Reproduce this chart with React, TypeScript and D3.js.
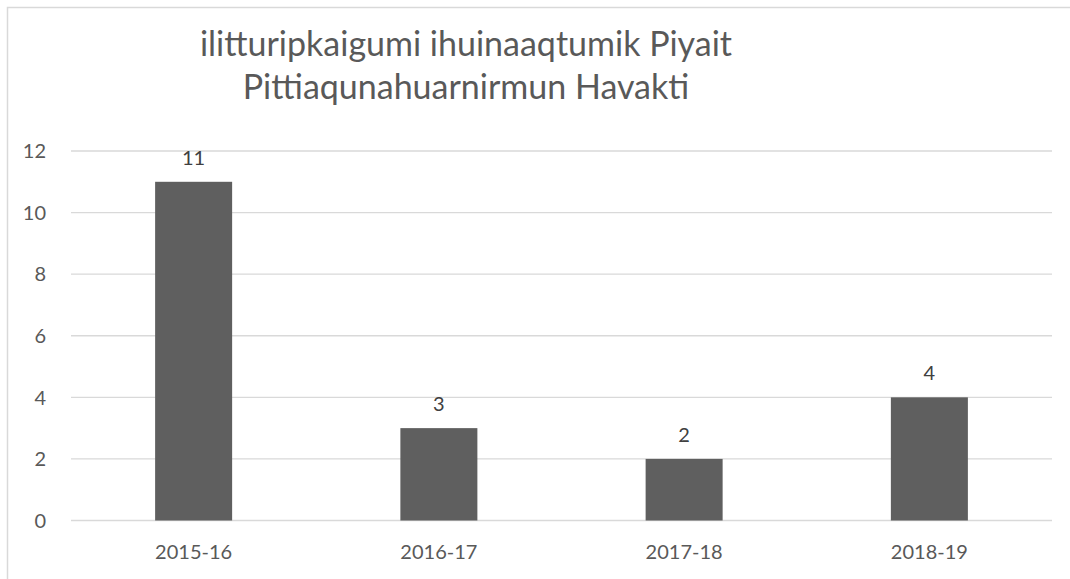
import * as d3 from 'd3';
import React, { useEffect, useRef } from 'react';

const categories = ['2015-16', '2016-17', '2017-18', '2018-19'];
const values = [11, 3, 2, 4];
const yTicks = [0, 2, 4, 6, 8, 10, 12];
const titleLines = ['ilitturipkaigumi ihuinaaqtumik Piyait', 'Pittiaqunahuarnirmun Havakti'];

const App = () => {
	const svgRef = useRef<SVGSVGElement | null>(null);

	useEffect(() => {
		const width = 1070;
		const height = 579;
		const margin = { top: 151, right: 18, bottom: 58, left: 71 };
		const font = 'Lato, "Open Sans", sans-serif';

		const svg = d3.select(svgRef.current);
		svg.selectAll('*').remove();

		svg.append('rect')
			.attr('width', width)
			.attr('height', height)
			.attr('fill', '#fff');

		// chart border (only left/top visible in frame)
		svg.append('rect')
			.attr('x', 7.5)
			.attr('y', 7.5)
			.attr('width', width + 20)
			.attr('height', height + 20)
			.attr('fill', 'none')
			.attr('stroke', '#d9d9d9')
			.attr('stroke-width', 1.5);

		const x = d3.scaleBand()
			.domain(categories)
			.range([margin.left, width - margin.right])
			.paddingInner(0.686)
			.paddingOuter(0.343);

		const y = d3.scaleLinear()
			.domain([0, 12])
			.range([height - margin.bottom - 0.5, margin.top]);

		// gridlines
		svg.append('g')
			.selectAll('line')
			.data(yTicks)
			.join('line')
			.attr('x1', margin.left)
			.attr('x2', width - margin.right)
			.attr('y1', d => y(d))
			.attr('y2', d => y(d))
			.attr('stroke', '#d9d9d9')
			.attr('stroke-width', 1.3);

		// y tick labels
		svg.append('g')
			.selectAll('text')
			.data(yTicks)
			.join('text')
			.attr('x', 46)
			.attr('y', d => y(d))
			.attr('dy', '0.36em')
			.attr('text-anchor', 'end')
			.style('font-family', font)
			.style('font-size', '20px')
			.attr('fill', '#595959')
			.text(d => d);

		// bars
		svg.append('g')
			.selectAll('rect')
			.data(values)
			.join('rect')
			.attr('x', (d, i) => x(categories[i]) as number)
			.attr('y', d => y(d))
			.attr('width', x.bandwidth())
			.attr('height', d => y(0) - y(d))
			.attr('fill', '#5f5f5f');

		// data labels
		svg.append('g')
			.selectAll('text')
			.data(values)
			.join('text')
			.attr('x', (d, i) => (x(categories[i]) as number) + x.bandwidth() / 2)
			.attr('y', d => y(d) - 17)
			.attr('text-anchor', 'middle')
			.style('font-family', font)
			.style('font-size', '20px')
			.attr('fill', '#404040')
			.text(d => d);

		// category labels
		svg.append('g')
			.selectAll('text')
			.data(categories)
			.join('text')
			.attr('x', d => (x(d) as number) + x.bandwidth() / 2)
			.attr('y', 559)
			.attr('text-anchor', 'middle')
			.style('font-family', font)
			.style('font-size', '20px')
			.attr('fill', '#595959')
			.text(d => d);

		// title
		svg.append('g')
			.selectAll('text')
			.data(titleLines)
			.join('text')
			.attr('x', 466)
			.attr('y', (d, i) => 56 + i * 43)
			.attr('text-anchor', 'middle')
			.style('font-family', font)
			.style('font-size', '34px')
			.attr('fill', '#595959')
			.text(d => d);
	}, []);

	return (
		<svg
			ref={svgRef}
			width={1070}
			height={579}
			style={{ position: 'absolute', left: 0, top: 0, display: 'block' }}
		/>
	);
};

export default App;
